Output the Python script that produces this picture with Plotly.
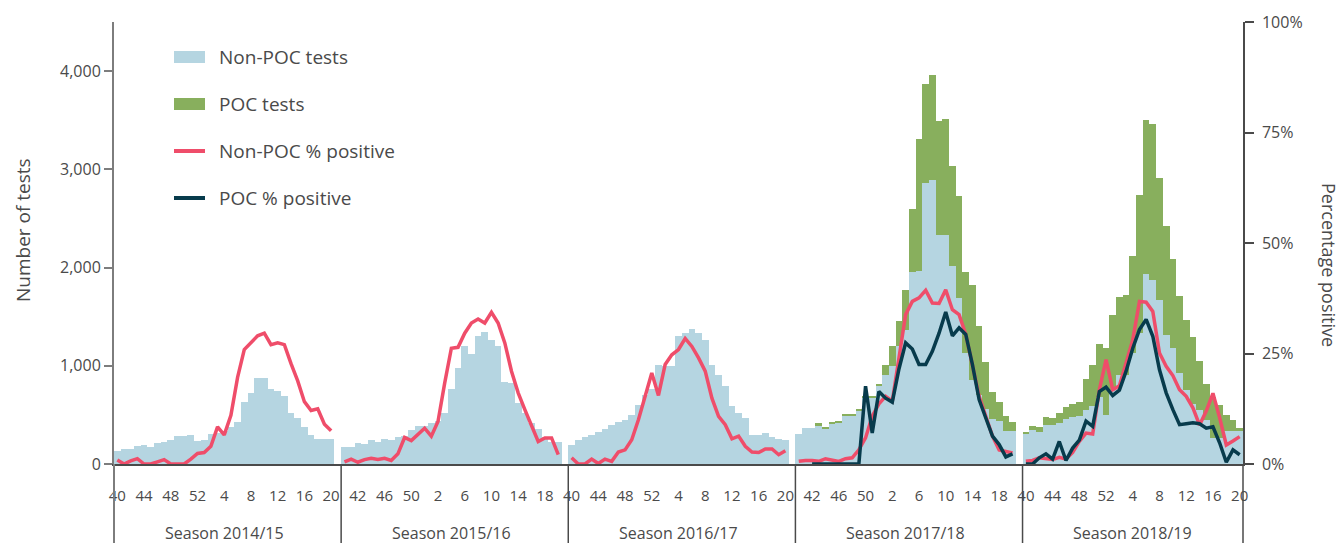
import plotly.graph_objects as go

# ---------------------------------------------------------------- data
seasons = ["2014/15", "2015/16", "2016/17", "2017/18", "2018/19"]
weeks = list(range(40, 53)) + list(range(1, 21))

# weekly number of non-POC tests
nonpoc_1415 = [132, 153, 153, 180, 193, 176, 217, 220, 244, 288, 282, 295, 237, 248, 309, 315, 337,
               375, 430, 636, 720, 875, 875, 760, 748, 688, 515, 472, 380, 292, 250, 250, 252]
nonpoc_1516 = [176, 170, 210, 207, 241, 224, 255, 248, 278, 290, 342, 382, 382, 417, 440, 522, 767,
               977, 1198, 1123, 1307, 1341, 1266, 1205, 832, 825, 620, 522, 420, 356, 270, 228, 222]
nonpoc_1617 = [197, 248, 272, 292, 326, 360, 394, 428, 451, 502, 604, 700, 760, 1005, 994, 994, 1307,
               1334, 1375, 1334, 1266, 1005, 903, 791, 594, 519, 468, 292, 299, 316, 275, 258, 241]
nonpoc_1718 = [305, 367, 367, 390, 360, 410, 418, 497, 497, 540, 672, 672, 791, 906, 994, 1198, 1368,
               1958, 1960, 2858, 2892, 2332, 2332, 2016, 1687, 1130, 860, 700, 560, 460, 440, 340, 340]
nonpoc_1819 = [315, 343, 322, 400, 400, 417, 458, 479, 485, 553, 590, 680, 495, 757, 910, 910, 1130,
               1334, 1938, 1870, 1666, 1317, 1181, 927, 757, 614, 553, 451, 265, 265, 333, 333, 333]

# weekly number of POC tests (reported from 2017/18 on)
poc_1718 = [0, 0, 0, 24, 7, 11, 10, 12, 12, 13, 17, 17, 24, 102, 211, 258, 404,
            635, 1346, 1011, 1069, 1164, 1177, 1018, 1042, 828, 963, 705, 482, 270, 188, 145, 84]
poc_1819 = [7, 47, 55, 79, 68, 102, 122, 135, 143, 313, 421, 542, 686, 763, 790, 814, 984,
            1408, 1561, 1595, 1246, 1103, 906, 787, 713, 679, 492, 367, 417, 335, 169, 118, 34]

# percentage positive, non-POC tests
pos_nonpoc_1415 = [0.9, 0, 0.7, 1.2, 0, 0, 0.5, 1.0, 0, 0, 0, 1.1, 2.4, 2.6, 4.0, 8.4, 6.6,
                   11.0, 19.6, 25.9, 27.4, 29.0, 29.6, 27.0, 27.4, 27.0, 22.7, 18.8, 14.1, 12.1, 12.5, 9.0, 7.5]
pos_nonpoc_1516 = [0.5, 1.1, 0.4, 1.0, 1.3, 1.0, 1.3, 0.8, 2.3, 6.0, 5.3, 6.6, 8.1, 6.3, 9.6, 18.3, 26.2,
                   26.4, 29.6, 31.9, 32.8, 31.9, 34.3, 31.9, 27.4, 21.0, 16.1, 12.3, 8.9, 5.1, 5.9, 5.9, 2.1]
pos_nonpoc_1617 = [1.4, 0, 0, 1.1, 0.1, 1.1, 0.6, 2.7, 3.2, 5.5, 10.0, 15.2, 20.6, 15.5, 22.5, 24.7, 25.9,
                   28.4, 26.6, 24.0, 21.0, 14.9, 10.8, 8.9, 5.7, 6.3, 4.0, 2.7, 2.6, 3.4, 3.4, 2.1, 3.0]
pos_nonpoc_1718 = [0.6, 0.8, 0.8, 0.6, 1.2, 0.8, 0.6, 1.2, 1.4, 3.2, 5.9, 10.8, 13.6, 15.3, 14.2, 24.0, 33.8,
                   36.8, 37.6, 39.3, 36.4, 36.3, 39.4, 34.9, 33.8, 29.3, 22.5, 15.3, 10.8, 6.3, 3.2, 2.9, 2.5]
pos_nonpoc_1819 = [0.6, 0.8, 1.4, 1.1, 1.0, 1.5, 1.1, 2.6, 5.1, 7.0, 6.8, 16.8, 23.6, 16.8, 17.7, 22.9, 28.1,
                   36.8, 36.6, 34.5, 25.1, 22.1, 20.0, 16.8, 15.3, 12.7, 8.8, 12.0, 16.0, 10.5, 4.3, 5.2, 6.2]

# percentage positive, POC tests
pos_poc_1718 = [None, None, 0, 0, 0, 0, 0, 0, 0, 0, 17.6, 7.0, 16.4, 14.9, 14.0, 21.5, 27.4,
                26.0, 22.5, 22.5, 25.5, 29.6, 34.4, 29.0, 30.8, 29.3, 22.5, 14.6, 10.4, 6.3, 4.4, 1.6, 2.3]
pos_poc_1819 = [0, 0, 1.4, 2.3, 1.1, 5.1, 0.8, 3.6, 5.4, 9.7, 8.5, 16.4, 17.4, 15.5, 16.7, 21.0, 26.2,
                30.4, 32.7, 28.9, 21.3, 16.1, 12.3, 8.9, 9.1, 9.3, 9.1, 8.1, 8.4, 4.8, 0.4, 3.2, 2.1]

# labelled weeks on the time axis
ticks_from_40 = [40, 44, 48, 52, 4, 8, 12, 16, 20]
ticks_from_42 = [42, 46, 50, 2, 6, 10, 14, 18]
season_ticks = [ticks_from_40, ticks_from_42, ticks_from_40, ticks_from_42, ticks_from_40]

# axis ticks
count_ticks = [0, 1000, 2000, 3000, 4000]
pct_ticks = [0, 25, 50, 75, 100]
pct_labels = ["0%", "25%", "50%", "75%", "100%"]

nonpoc = [nonpoc_1415, nonpoc_1516, nonpoc_1617, nonpoc_1718, nonpoc_1819]
poc = [None, None, None, poc_1718, poc_1819]
pos_nonpoc = [pos_nonpoc_1415, pos_nonpoc_1516, pos_nonpoc_1617, pos_nonpoc_1718, pos_nonpoc_1819]
pos_poc = [None, None, None, pos_poc_1718, pos_poc_1819]

# ---------------------------------------------------------------- layout helpers
SLOTS = len(weeks) + 1          # each season is followed by one empty slot
W, H = 1342, 543
ML, MR, MT, MB = 114, 99, 22, 79
PW, PH = W - ML - MR, H - MT - MB

BLUE = "#b5d5e1"
GREEN = "#88af5d"
RED = "#ef4d6a"
NAVY = "#073b4c"
TEXT = "#4a4a4a"
FONT = "Open Sans"


def season_x(k):
    return [k * SLOTS + j for j in range(len(weeks))]


def joined(per_season):
    xs, ys = [], []
    for k, vals in enumerate(per_season):
        if vals is None:
            continue
        xs.extend(season_x(k))
        ys.extend(vals)
        xs.append(k * SLOTS + len(weeks))
        ys.append(None)
    return xs, ys


def px_x(p):
    return (p - ML) / PW


def px_y(p):
    return (MT + PH - p) / PH


fig = go.Figure()

bx, by = joined(nonpoc)
fig.add_trace(go.Bar(x=bx, y=by, name="Non-POC tests", marker=dict(color=BLUE, line=dict(width=0)),
                     showlegend=False))
gx, gy = joined(poc)
fig.add_trace(go.Bar(x=gx, y=gy, name="POC tests", marker=dict(color=GREEN, line=dict(width=0)),
                     showlegend=False))

rx, ry = joined(pos_nonpoc)
fig.add_trace(go.Scatter(x=rx, y=ry, name="Non-POC % positive", mode="lines", yaxis="y2",
                         line=dict(color=RED, width=3.5), connectgaps=False, showlegend=False))
nx, ny = joined(pos_poc)
fig.add_trace(go.Scatter(x=nx, y=ny, name="POC % positive", mode="lines", yaxis="y2",
                         line=dict(color=NAVY, width=3.5), connectgaps=False, showlegend=False))

tickvals, ticktext = [], []
for k, tw in enumerate(season_ticks):
    for w in tw:
        tickvals.append(k * SLOTS + weeks.index(w))
        ticktext.append(str(w))

shapes = []
annotations = []

# axis lines continued below the baseline and season separators
shapes.append(dict(type="line", xref="paper", yref="paper", x0=0, x1=0, y0=0, y1=-0.2,
                   line=dict(color="#7d7d7d", width=2)))
shapes.append(dict(type="line", xref="paper", yref="paper", x0=1, x1=1, y0=0, y1=-0.2,
                   line=dict(color="#4a4a4a", width=1.5)))
for k in range(1, len(seasons)):
    shapes.append(dict(type="line", xref="x", yref="paper", x0=k * SLOTS - 0.5, x1=k * SLOTS - 0.5,
                       y0=0, y1=-0.2, line=dict(color="#4a4a4a", width=1.5)))

for k, s in enumerate(seasons):
    annotations.append(dict(x=k * SLOTS + (len(weeks) - 1) / 2, y=px_y(533), xref="x", yref="paper",
                            text="Season " + s, showarrow=False, xanchor="center", yanchor="middle",
                            font=dict(family=FONT, size=16, color=TEXT)))

# legend
legend_items = [("Non-POC tests", "rect", BLUE, 57),
                ("POC tests", "rect", GREEN, 104),
                ("Non-POC % positive", "line", RED, 151),
                ("POC % positive", "line", NAVY, 198)]
for label, kind, color, yc in legend_items:
    if kind == "rect":
        shapes.append(dict(type="rect", xref="paper", yref="paper", x0=px_x(174), x1=px_x(205),
                           y0=px_y(yc + 6), y1=px_y(yc - 6), fillcolor=color, line=dict(width=0)))
    else:
        shapes.append(dict(type="line", xref="paper", yref="paper", x0=px_x(174), x1=px_x(205),
                           y0=px_y(yc), y1=px_y(yc), line=dict(color=color, width=4)))
    annotations.append(dict(x=px_x(217), y=px_y(yc), xref="paper", yref="paper", text=label,
                            showarrow=False, xanchor="left", yanchor="middle",
                            font=dict(family=FONT, size=19, color=TEXT)))

# axis titles
annotations.append(dict(x=px_x(23), y=px_y(230), xref="paper", yref="paper", text="Number of tests",
                        showarrow=False, textangle=-90, xanchor="center", yanchor="middle",
                        font=dict(family=FONT, size=19, color=TEXT)))
annotations.append(dict(x=px_x(1329), y=px_y(265), xref="paper", yref="paper", text="Percentage positive",
                        showarrow=False, textangle=90, xanchor="center", yanchor="middle",
                        font=dict(family=FONT, size=18, color=TEXT)))

fig.update_layout(
    width=W, height=H,
    margin=dict(l=ML, r=MR, t=MT, b=MB, pad=0),
    paper_bgcolor="white", plot_bgcolor="white",
    barmode="stack", bargap=0,
    font=dict(family=FONT, color=TEXT),
    xaxis=dict(range=[-0.5, SLOTS * len(seasons) - 1.5], tickmode="array", tickvals=tickvals,
               ticktext=ticktext, ticks="outside", ticklen=17, tickcolor="rgba(0,0,0,0)",
               tickfont=dict(family=FONT, size=15, color=TEXT), showline=True, linecolor="#4a4a4a",
               linewidth=1.5, showgrid=False, zeroline=False),
    yaxis=dict(range=[0, 4500], tickvals=count_ticks, tickformat=",",
               ticks="outside", ticklen=8, tickcolor="#7d7d7d", tickwidth=1.5,
               tickfont=dict(family=FONT, size=16, color=TEXT), showline=True, linecolor="#7d7d7d",
               linewidth=2, showgrid=False, zeroline=False),
    yaxis2=dict(range=[0, 100], overlaying="y", side="right", tickmode="array", tickvals=pct_ticks,
                ticktext=pct_labels, ticks="outside", ticklen=9, tickcolor="#4a4a4a", tickwidth=1.5,
                ticklabelstandoff=5,
                tickfont=dict(family=FONT, size=16, color=TEXT), showline=True, linecolor="#4a4a4a",
                linewidth=1.5, showgrid=False, zeroline=False),
    shapes=shapes,
    annotations=annotations,
    showlegend=False,
)

fig.write_html("out.html")
